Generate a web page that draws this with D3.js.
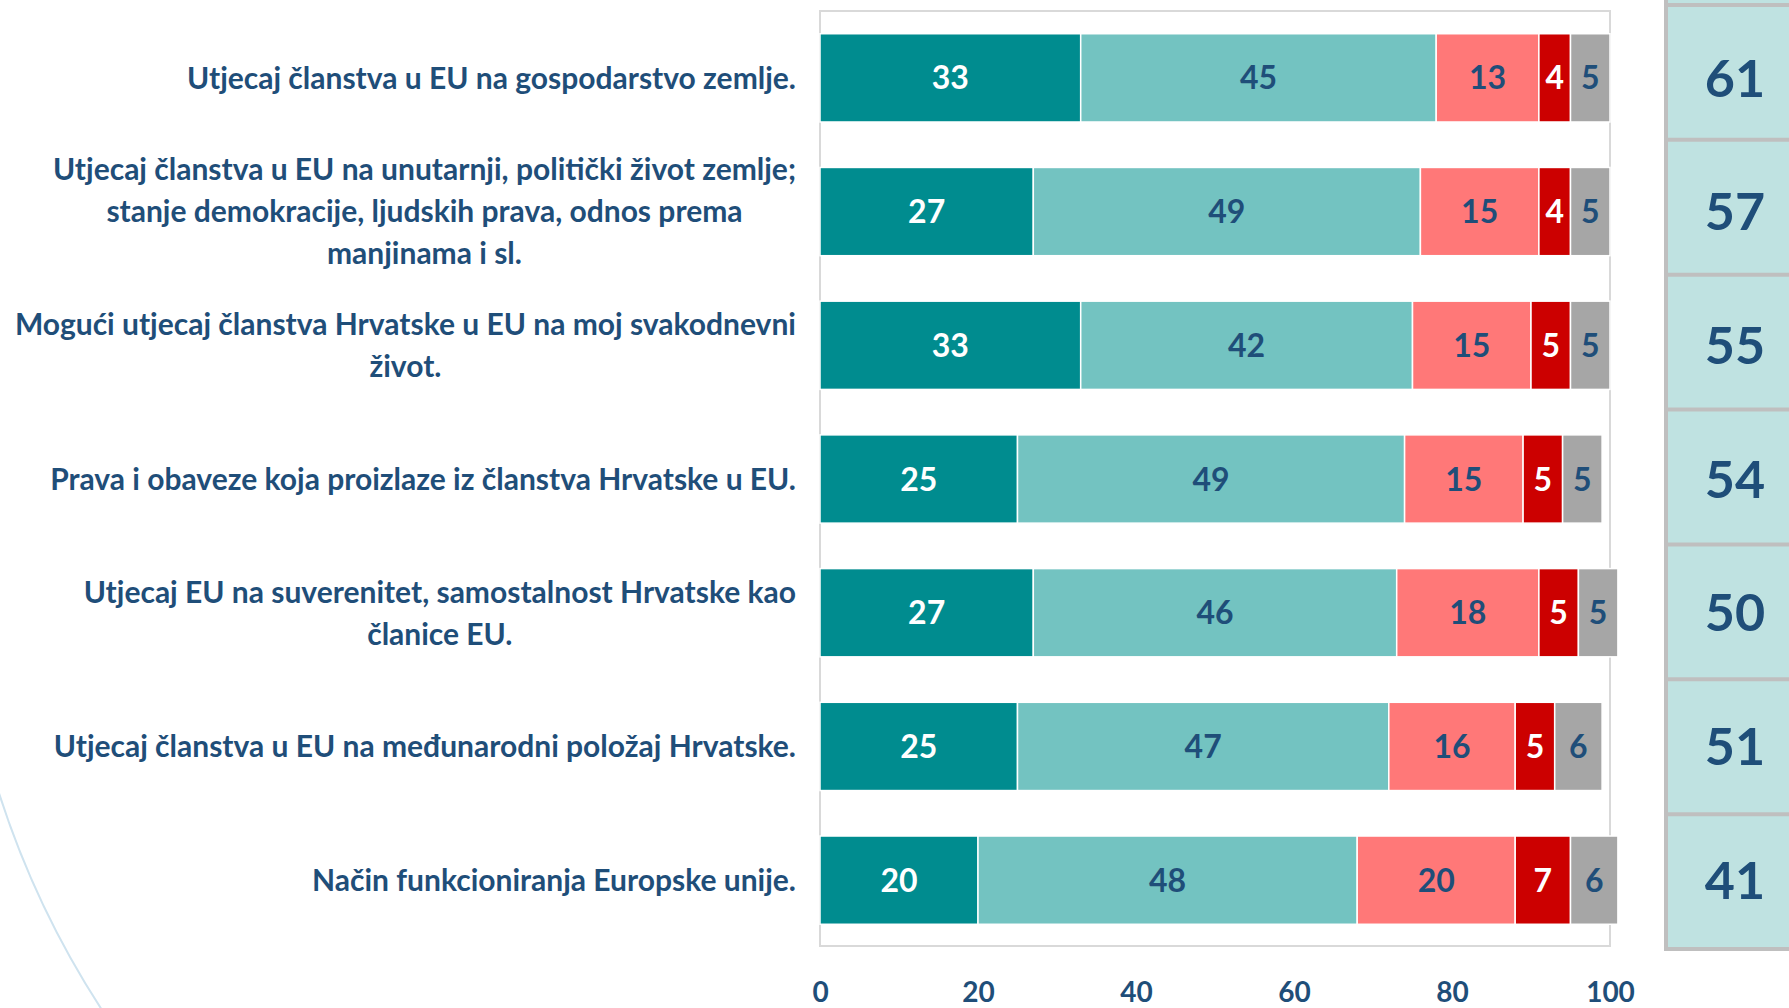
<!DOCTYPE html>
<html>
<head>
<meta charset="utf-8">
<script src="https://cdn.jsdelivr.net/npm/d3@7"></script>
<style>
  html, body { margin: 0; padding: 0; background: #fff; }
  svg { display: block; font-family: Lato, "Open Sans", sans-serif; font-weight: 700; }
</style>
</head>
<body>
<div id="chart"></div>
<script>
(function () {

  // Category labels, already split into the lines used in the picture
  const categories = [
    ["Utjecaj članstva u EU na gospodarstvo zemlje."],
    ["Utjecaj članstva u EU na unutarnji, politički život zemlje;", "stanje demokracije, ljudskih prava, odnos prema", "manjinama i sl."],
    ["Mogući utjecaj članstva Hrvatske u EU na moj svakodnevni", "život."],
    ["Prava i obaveze koja proizlaze iz članstva Hrvatske u EU."],
    ["Utjecaj EU na suverenitet, samostalnost Hrvatske kao", "članice EU."],
    ["Utjecaj članstva u EU na međunarodni položaj Hrvatske."],
    ["Način funkcioniranja Europske unije."]
  ]

  // Series values (one array per segment, top row first)
  const seriesA = [33, 27, 33, 25, 27, 25, 20]
  const seriesB = [45, 49, 42, 49, 46, 47, 48]
  const seriesC = [13, 15, 15, 15, 18, 16, 20]
  const seriesD = [4, 4, 5, 5, 5, 5, 7]
  const seriesE = [5, 5, 5, 5, 5, 6, 6]

  // Values in the right-hand box
  const boxValues = [61, 57, 55, 54, 50, 51, 41]

  const tickValues = [0, 20, 40, 60, 80, 100]

  const width = 1789
  const height = 1008
  const blue = "#1F4E79"

  const series = [
    { key: "a", values: seriesA, fill: "#008C8F", text: "#fff" },
    { key: "b", values: seriesB, fill: "#73C3C1", text: blue },
    { key: "c", values: seriesC, fill: "#FF7878", text: blue },
    { key: "d", values: seriesD, fill: "#CC0000", text: "#fff" },
    { key: "e", values: seriesE, fill: "#A6A6A6", text: blue }
  ]

  const svg = d3.select("#chart").append("svg")
      .attr("width", width)
      .attr("height", height)

  // decorative arc at bottom left
  svg.append("path")
    .attr("d", "M -2 790 A 900 900 0 0 0 102 1010")
    .attr("fill", "none")
    .attr("stroke", "#CFE3EF")
    .attr("stroke-width", 2)

  const x = d3.scaleLinear()
    .domain([0, 100])
    .range([820, 1610])

  const idx = d3.range(categories.length)

  const y = d3.scaleBand()
    .domain(idx)
    .range([11, 947])
    .paddingInner(0.34)
    .paddingOuter(0.17)

  // plot area frame
  svg.append("rect")
    .attr("x", x(0))
    .attr("y", 11)
    .attr("width", x(100) - x(0))
    .attr("height", 935)
    .attr("fill", "none")
    .attr("stroke", "#D9D9D9")
    .attr("stroke-width", 2)

  // stack the segments
  const rows = idx.map(i => {
    const r = { i: i }
    series.forEach(s => { r[s.key] = s.values[i] })
    return r
  })
  const stacked = d3.stack().keys(series.map(s => s.key))(rows)

  const layers = svg.selectAll("g.layer")
    .data(stacked)
    .join("g")
    .attr("class", "layer")

  layers.selectAll("rect")
    .data((d, k) => d.map(p => ({ p: p, s: series[k] })))
    .join("rect")
    .attr("x", d => x(d.p[0]))
    .attr("y", d => y(d.p.data.i))
    .attr("width", d => x(d.p[1]) - x(d.p[0]))
    .attr("height", y.bandwidth())
    .attr("fill", d => d.s.fill)
    .attr("stroke", "#fff")
    .attr("stroke-width", 1.5)

  layers.selectAll("text")
    .data((d, k) => d.map(p => ({ p: p, s: series[k] })))
    .join("text")
    .attr("x", d => (x(d.p[0]) + x(d.p[1])) / 2)
    .attr("y", d => y(d.p.data.i) + y.bandwidth() / 2)
    .attr("dy", "0.36em")
    .attr("text-anchor", "middle")
    .attr("font-size", 32)
    .attr("fill", d => d.s.text)
    .text(d => d.p[1] - d.p[0])

  // category labels: block right-aligned, lines centred inside the block
  const labelRight = 796
  const lineH = 42
  const labels = svg.append("g")
    .attr("font-size", 30)
    .attr("fill", blue)

  categories.forEach((lines, i) => {
    const g = labels.append("g")
    const t = g.selectAll("text")
      .data(lines)
      .join("text")
      .attr("text-anchor", "middle")
      .attr("dy", "0.36em")
      .text(d => d)
    let maxW = 0
    t.each(function () { maxW = Math.max(maxW, this.getComputedTextLength()) })
    const cy = y(i) + y.bandwidth() / 2
    t.attr("x", labelRight - maxW / 2)
      .attr("y", (d, j) => cy + (j - (lines.length - 1) / 2) * lineH)
  })

  // x axis tick labels only
  const axis = svg.append("g")
    .attr("transform", "translate(0,946)")
    .call(d3.axisBottom(x).tickValues(tickValues).tickSize(0).tickPadding(36))
  axis.select(".domain").remove()
  axis.selectAll("text")
    .attr("font-size", 28)
    .attr("font-family", "Lato, sans-serif")
    .attr("font-weight", 700)
    .attr("fill", blue)

  // right-hand box
  const yb = d3.scaleBand()
    .domain(idx)
    .range([5, 949])

  const box = svg.append("g")
  box.append("rect")
    .attr("x", 1666)
    .attr("y", -20)
    .attr("width", 200)
    .attr("height", 969)
    .attr("fill", "#BFE2E1")
    .attr("stroke", "#BFBFBF")
    .attr("stroke-width", 4)

  box.selectAll("line")
    .data(idx)
    .join("line")
    .attr("x1", 1666)
    .attr("x2", width)
    .attr("y1", d => yb(d))
    .attr("y2", d => yb(d))
    .attr("stroke", "#BFBFBF")
    .attr("stroke-width", 4)

  box.selectAll("text")
    .data(boxValues)
    .join("text")
    .attr("x", 1735)
    .attr("y", (d, i) => y(i) + y.bandwidth() / 2)
    .attr("dy", "0.36em")
    .attr("text-anchor", "middle")
    .attr("font-size", 52)
    .attr("fill", blue)
    .text(d => d)
})();
</script>
</body>
</html>
